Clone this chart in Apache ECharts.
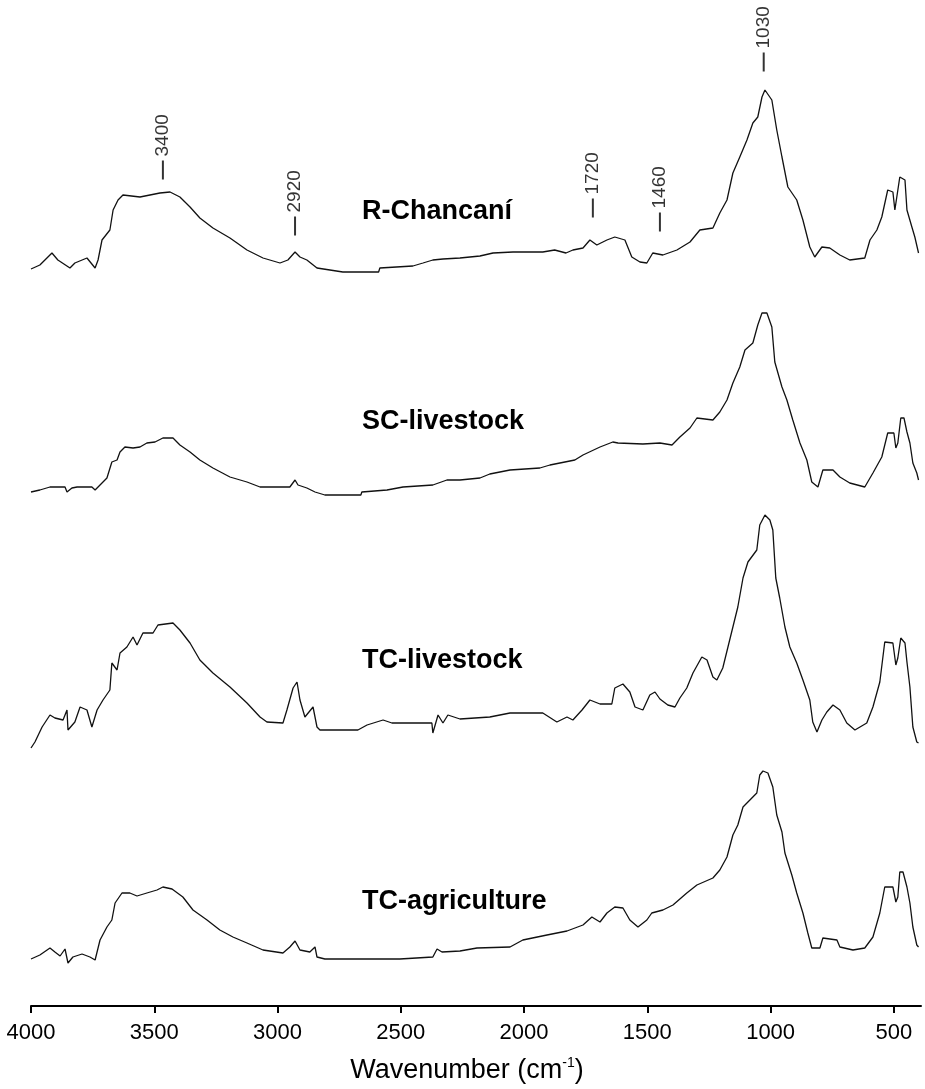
<!DOCTYPE html>
<html>
<head>
<meta charset="utf-8">
<script src="https://cdn.jsdelivr.net/npm/echarts@6/dist/echarts.min.js"></script>
<style>
  html, body { margin: 0; padding: 0; background: #ffffff; }
  #chart { width: 925px; height: 1089px; }
</style>
</head>
<body>
<div id="chart"></div>
<script>
// ---- Data (absorbance in arbitrary units) ----
const sampleNames = ['R-Chancaní', 'SC-livestock', 'TC-livestock', 'TC-agriculture'];

const wnR = [4000,3964,3915,3891,3842,3822,3773,3740,3728,3712,3680,3667,3647,3627,3558,3477,3436,3396,3355,3315,3262,3193,3124,3059,2990,2958,2929,2909,2881,2840,2735,2590,2585,2451,2410,2370,2329,2260,2179,2126,2045,1924,1876,1830,1802,1761,1733,1705,1664,1632,1591,1563,1530,1502,1478,1437,1380,1327,1287,1234,1206,1177,1153,1125,1096,1072,1052,1035,1023,995,975,954,930,894,869,841,821,792,760,719,679,618,597,569,549,525,504,496,476,455,447,427,415,400];
const absR = [0.06,0.10,0.22,0.15,0.07,0.12,0.17,0.07,0.15,0.35,0.45,0.65,0.75,0.80,0.78,0.82,0.83,0.78,0.68,0.57,0.47,0.37,0.25,0.17,0.12,0.15,0.23,0.18,0.15,0.07,0.03,0.03,0.07,0.09,0.12,0.15,0.16,0.17,0.19,0.22,0.23,0.23,0.25,0.22,0.25,0.27,0.35,0.30,0.35,0.38,0.35,0.18,0.13,0.12,0.22,0.20,0.25,0.33,0.45,0.47,0.62,0.75,1.02,1.18,1.35,1.52,1.58,1.78,1.85,1.75,1.45,1.18,0.88,0.75,0.55,0.28,0.18,0.28,0.27,0.20,0.15,0.17,0.35,0.45,0.58,0.85,0.83,0.65,0.98,0.95,0.65,0.48,0.38,0.22];

const wnSC = [4000,3964,3923,3862,3854,3834,3813,3753,3740,3720,3692,3672,3651,3639,3619,3586,3558,3530,3497,3465,3424,3396,3355,3315,3262,3193,3124,3071,2950,2929,2917,2881,2848,2808,2662,2658,2556,2491,2370,2313,2260,2179,2139,2057,1936,1895,1794,1761,1692,1640,1619,1518,1449,1400,1368,1327,1299,1234,1206,1177,1153,1125,1104,1072,1052,1035,1015,995,983,954,934,910,881,853,833,808,788,747,719,679,618,585,549,525,500,492,484,472,459,447,435,423,407,400];
const absSC = [0.08,0.10,0.13,0.13,0.08,0.12,0.13,0.13,0.10,0.15,0.22,0.38,0.40,0.48,0.53,0.52,0.53,0.57,0.58,0.62,0.62,0.55,0.48,0.40,0.32,0.23,0.18,0.13,0.13,0.20,0.15,0.12,0.08,0.05,0.05,0.08,0.10,0.13,0.15,0.20,0.20,0.22,0.26,0.30,0.32,0.35,0.40,0.45,0.53,0.58,0.57,0.56,0.57,0.55,0.63,0.72,0.82,0.80,0.88,1.00,1.17,1.33,1.50,1.57,1.75,1.87,1.87,1.73,1.38,1.13,1.00,0.80,0.57,0.40,0.18,0.13,0.30,0.30,0.23,0.17,0.13,0.27,0.43,0.67,0.67,0.52,0.57,0.82,0.82,0.68,0.57,0.37,0.27,0.20];

const wnTL = [4000,3984,3955,3923,3903,3870,3854,3850,3822,3801,3773,3753,3732,3708,3680,3672,3651,3639,3611,3586,3570,3546,3505,3485,3424,3396,3355,3315,3262,3193,3124,3071,3043,2978,2962,2937,2921,2909,2889,2856,2840,2828,2674,2637,2572,2536,2374,2370,2349,2329,2309,2260,2139,2057,1924,1867,1826,1802,1765,1733,1692,1644,1632,1599,1571,1550,1518,1490,1469,1449,1417,1388,1368,1340,1315,1279,1258,1234,1218,1194,1173,1153,1133,1112,1092,1056,1044,1023,1003,991,979,963,942,922,894,869,841,829,812,792,772,747,719,691,658,610,585,557,537,504,492,484,472,455,447,435,423,407,400];
const absTL = [0.02,0.08,0.23,0.35,0.32,0.30,0.40,0.20,0.28,0.43,0.40,0.23,0.40,0.50,0.60,0.87,0.80,0.97,1.03,1.13,1.05,1.17,1.17,1.25,1.27,1.20,1.07,0.90,0.77,0.63,0.47,0.33,0.28,0.27,0.40,0.62,0.68,0.50,0.33,0.43,0.23,0.20,0.20,0.25,0.30,0.27,0.27,0.17,0.35,0.27,0.35,0.31,0.33,0.37,0.37,0.28,0.33,0.30,0.40,0.50,0.46,0.46,0.62,0.66,0.58,0.43,0.40,0.55,0.58,0.51,0.45,0.43,0.52,0.62,0.77,0.93,0.90,0.73,0.70,0.82,1.03,1.23,1.43,1.72,1.88,2.00,2.25,2.35,2.30,2.20,1.72,1.52,1.23,1.03,0.87,0.70,0.50,0.28,0.18,0.30,0.38,0.45,0.40,0.27,0.20,0.27,0.43,0.68,1.08,1.07,0.85,0.92,1.12,1.07,0.88,0.63,0.23,0.08,0.07];

const wnTA = [4000,3964,3923,3903,3882,3862,3850,3830,3793,3761,3740,3720,3692,3672,3659,3631,3599,3570,3530,3489,3465,3428,3384,3343,3286,3234,3181,3124,3059,2978,2950,2929,2909,2869,2848,2840,2808,2504,2370,2353,2333,2260,2191,2057,2005,1907,1826,1761,1725,1692,1664,1632,1599,1571,1538,1502,1482,1437,1396,1340,1299,1234,1206,1177,1153,1133,1112,1084,1056,1044,1031,1011,991,975,954,942,914,894,869,849,833,800,788,731,719,666,618,585,557,537,504,492,484,476,463,447,435,423,407,400];
const absTA = [0.06,0.10,0.17,0.13,0.09,0.16,0.02,0.08,0.11,0.08,0.05,0.25,0.38,0.45,0.62,0.72,0.72,0.69,0.72,0.75,0.78,0.76,0.68,0.55,0.45,0.35,0.28,0.22,0.15,0.12,0.18,0.24,0.15,0.13,0.18,0.08,0.06,0.06,0.08,0.16,0.13,0.14,0.17,0.18,0.25,0.30,0.34,0.40,0.48,0.43,0.52,0.58,0.57,0.45,0.38,0.45,0.52,0.55,0.60,0.72,0.80,0.87,0.95,1.08,1.30,1.40,1.58,1.65,1.72,1.90,1.94,1.92,1.78,1.50,1.33,1.12,0.90,0.72,0.52,0.32,0.17,0.17,0.27,0.25,0.18,0.15,0.17,0.28,0.52,0.78,0.78,0.63,0.68,0.93,0.93,0.78,0.62,0.38,0.20,0.18];

// Band annotations on the top spectrum
const peakLabels = ['3400', '2920', '1720', '1460', '1030'];
const peakWn = [3465, 2929, 1721, 1449, 1028];
const peakLevel = [1.05, 0.49, 0.67, 0.53, 2.13];

const xTicks = [4000, 3500, 3000, 2500, 2000, 1500, 1000, 500];

// ---- Build ----
function pairs(xs, ys) { return xs.map((x, i) => [x, ys[i]]); }
const spectra = [pairs(wnR, absR), pairs(wnSC, absSC), pairs(wnTL, absTL), pairs(wnTA, absTA)];

const FONT = '"Liberation Sans", Arial, Helvetica, sans-serif';
const gridTops = [15, 240, 490, 705];
const gridHeights = [260, 260, 260, 301];
const yMins = [0, 0, 0, -0.41];
const nameCentersY = [213, 423, 662, 903];

const grids = gridTops.map((t, i) => ({ left: 31, right: 4, top: t, height: gridHeights[i], containLabel: false }));

const xAxes = grids.map((g, i) => {
  const base = {
    type: 'value', gridIndex: i, inverse: true, min: 390, max: 4000,
    splitLine: { show: false }
  };
  if (i < 3) { base.show = false; return base; }
  return Object.assign(base, {
    show: true,
    axisLine: { show: true, onZero: false, lineStyle: { color: '#000', width: 2 } },
    axisTick: { show: true, customValues: xTicks, length: 7, lineStyle: { color: '#000', width: 2 } },
    axisLabel: { show: true, customValues: xTicks, formatter: v => String(v), margin: 16, fontSize: 22, color: '#000', fontFamily: FONT },
    name: '{t|Wavenumber (cm}{s|-1}{t|)}',
    nameLocation: 'middle',
    nameGap: 50,
    nameTextStyle: {
      color: '#000', fontFamily: FONT, padding: [0, 18, 0, 0],
      rich: {
        t: { fontSize: 27, color: '#000', fontFamily: FONT, lineHeight: 30 },
        s: { fontSize: 14, color: '#000', fontFamily: FONT, verticalAlign: 'top', lineHeight: 14 }
      }
    }
  });
});

const yAxes = grids.map((g, i) => ({
  type: 'value', gridIndex: i, show: false, min: yMins[i], max: 2.6
}));

const series = spectra.map((d, i) => ({
  type: 'line', name: sampleNames[i], xAxisIndex: i, yAxisIndex: i,
  data: d, showSymbol: false, symbol: 'none',
  lineStyle: { color: '#111', width: 1.3 }, animation: false, silent: true, clip: false
}));

series.push({
  type: 'scatter', xAxisIndex: 0, yAxisIndex: 0, animation: false, silent: true,
  data: peakWn.map((w, i) => ({ value: [w, peakLevel[i]], name: peakLabels[i] })),
  symbol: 'rect', symbolSize: [2, 19],
  itemStyle: { color: '#000' },
  label: {
    show: true, formatter: p => p.name, position: 'top', distance: 4,
    rotate: 90, align: 'left', verticalAlign: 'middle',
    fontSize: 19, color: '#000', fontFamily: FONT
  }
});

const graphics = sampleNames.map((n, i) => ({
  type: 'text', left: 362, top: nameCentersY[i] - 15,
  style: { text: n, fontSize: 27, fontWeight: 'bold', fill: '#000', fontFamily: FONT }
}));

const chart = echarts.init(document.getElementById('chart'), null, { renderer: 'canvas' });
chart.setOption({
  backgroundColor: '#ffffff',
  animation: false,
  grid: grids,
  xAxis: xAxes,
  yAxis: yAxes,
  series: series,
  graphic: graphics
});
</script>
</body>
</html>
